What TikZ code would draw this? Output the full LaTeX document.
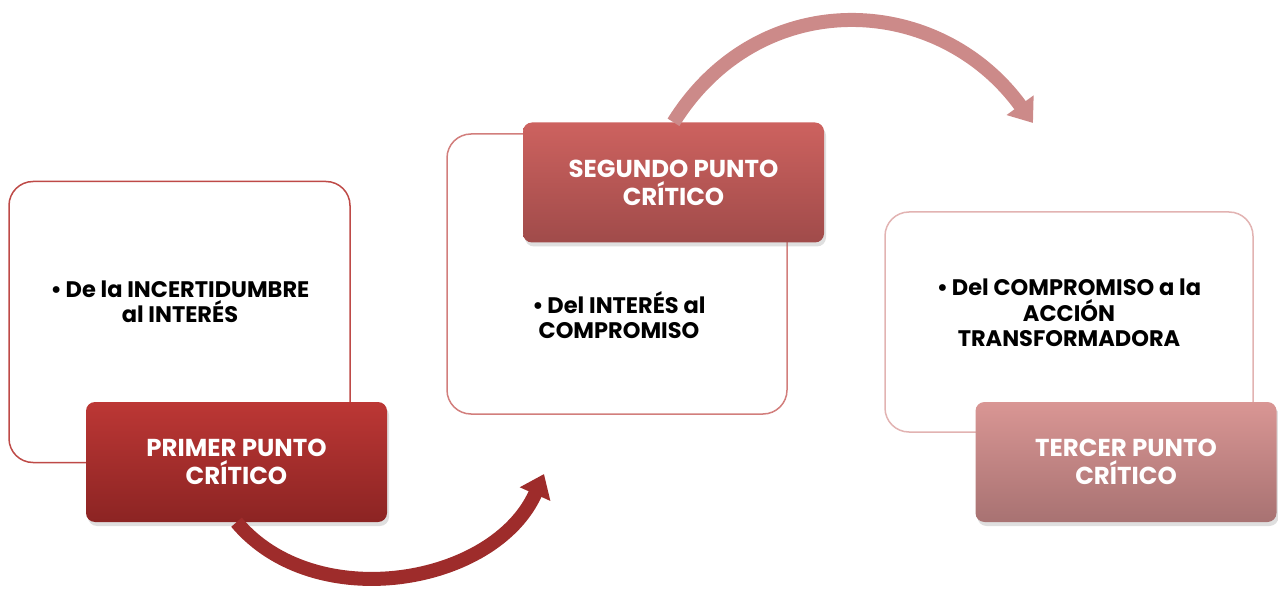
\documentclass[tikz,border=0pt]{standalone}
\usepackage{fontspec}
\setmainfont{Poppins}
\usetikzlibrary{arrows.meta,shadows}
\definecolor{rojoA}{HTML}{BE4A47}
\definecolor{rojoB}{HTML}{D27E7C}
\definecolor{rojoC}{HTML}{E2B3B2}
\definecolor{unoArriba}{HTML}{BC3735}
\definecolor{unoAbajo}{HTML}{8C2423}
\definecolor{dosArriba}{HTML}{CD625F}
\definecolor{dosAbajo}{HTML}{A04B4A}
\definecolor{tresArriba}{HTML}{D99694}
\definecolor{tresAbajo}{HTML}{A87272}
\definecolor{flechaUno}{HTML}{9E2C2B}
\definecolor{flechaDos}{HTML}{CC8A89}

\begin{document}
\begin{tikzpicture}[x=1pt,y=-1pt]
      \tikzset{caja/.style={draw=#1, line width=1.5pt, fill=white,
          rounded corners=24pt, inner sep=0pt},
        punto/.style={rounded corners=9pt, inner sep=0pt, text=white,
          font=\fontsize{24.5}{28}\selectfont\bfseries, align=center,
          minimum width=301pt, minimum height=120pt,
          drop shadow={opacity=0.25, shadow xshift=2pt, shadow yshift=-4pt}},
        texto/.style={font=\fontsize{22.5}{25.5}\selectfont\bfseries, align=center},
        flecha/.style={line width=14pt, -{Triangle[length=22pt,width=32pt]}}
      }
      \useasboundingbox (0,0) rectangle (1278,596);

      \node [caja=rojoA, minimum width=341pt, minimum height=281pt] (B1) at (179.5,322) {};
      \node [texto] (T1) at (180,302) {•\,De la INCERTIDUMBRE\\al INTERÉS};
      \node [punto, top color=unoArriba, bottom color=unoAbajo] (P1) at (236.5,462) {PRIMER PUNTO\\CRÍTICO};

      \node [caja=rojoB, minimum width=340pt, minimum height=280pt] (B2) at (617,274) {};
      \node [texto] (T2) at (619,315) {•\,Del INTERÉS al\\COMPROMISO};
      \node [punto, top color=dosArriba, bottom color=dosAbajo] (P2) at (673.5,182.5) {SEGUNDO PUNTO\\CRÍTICO};

      \node [caja=rojoC, minimum width=368pt, minimum height=220pt] (B3) at (1069,322) {};
      \node [texto] (T3) at (1069,313) {•\,Del COMPROMISO a la\\ACCIÓN\\TRANSFORMADORA};
      \node [punto, top color=tresArriba, bottom color=tresAbajo] (P3) at (1126,462) {TERCER PUNTO\\CRÍTICO};

      \coordinate (F1) at (544,474);
      \coordinate (F2) at (1033,123);
      \draw [flecha, flechaUno] (P1.south) to[out=-50,in=-114] (F1);
      \draw [flecha, flechaDos] (P2.north) to[out=58,in=126,looseness=1.15] (F2);
    \end{tikzpicture}
\end{document}
